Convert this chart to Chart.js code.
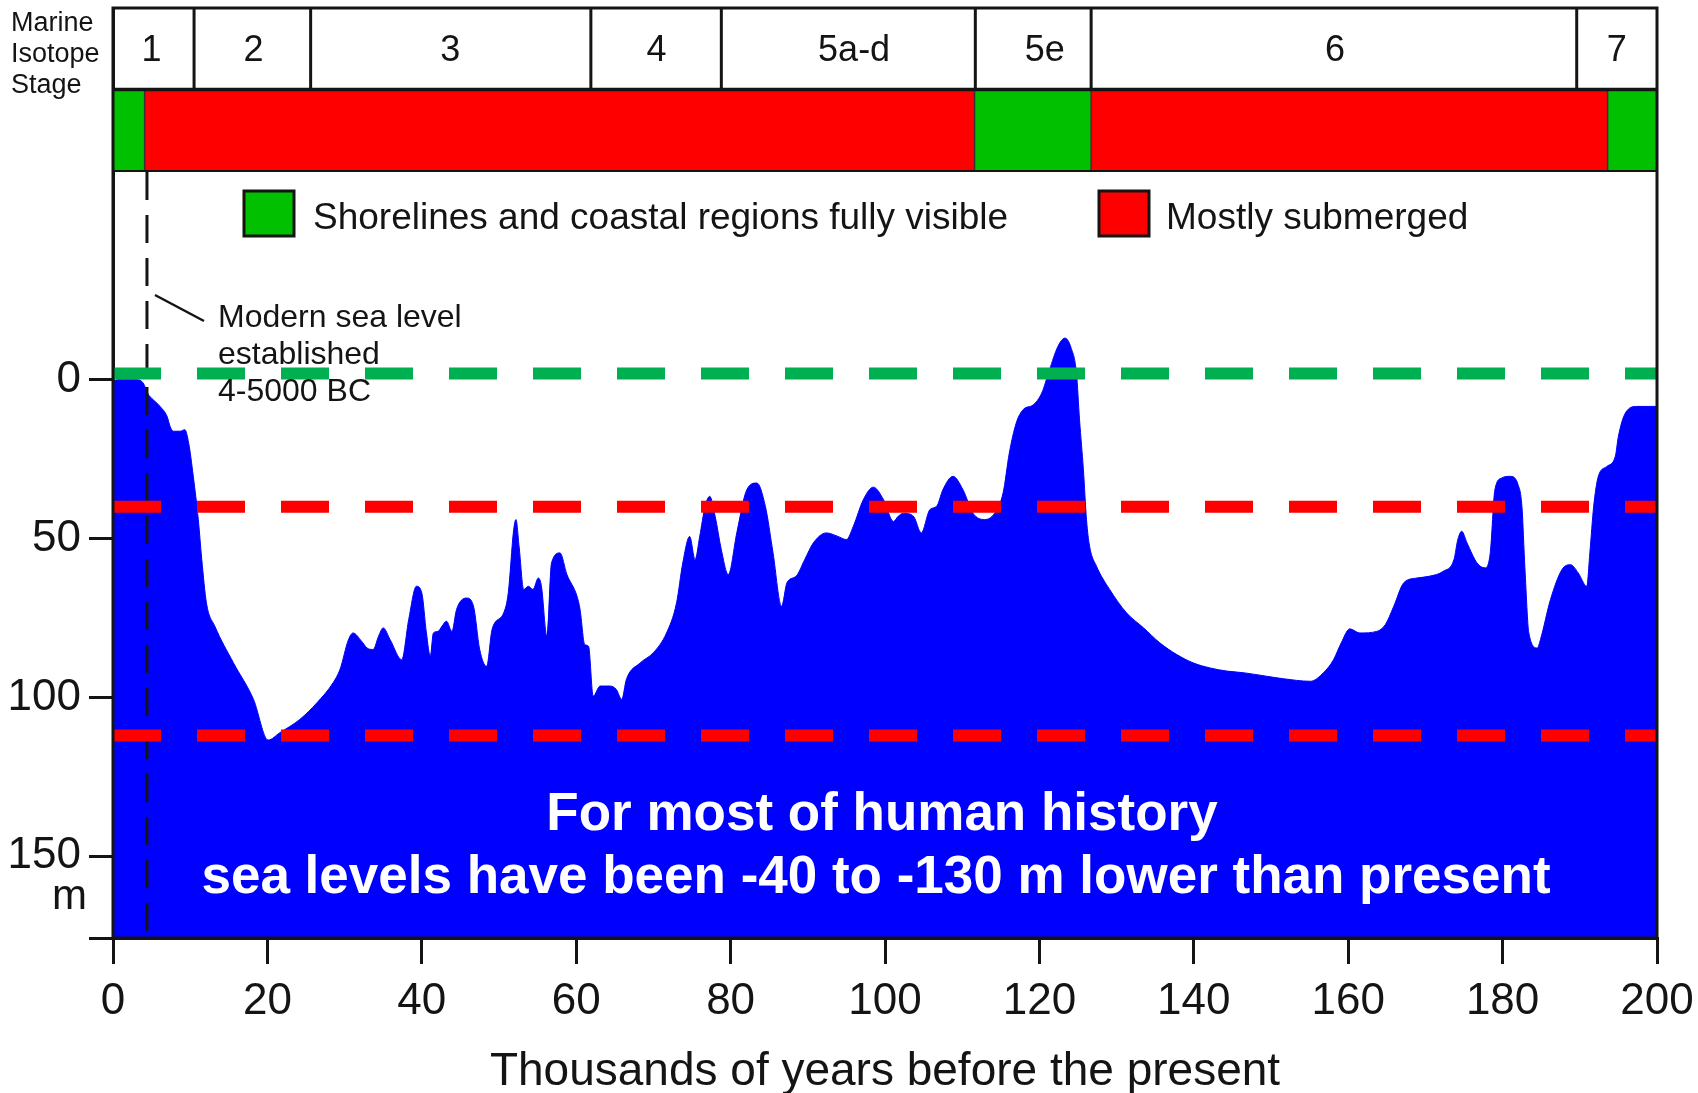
<!DOCTYPE html>
<html>
<head>
<meta charset="utf-8">
<title>Sea level over the last 200,000 years</title>
<script src="https://cdn.jsdelivr.net/npm/chart.js@4.4.1/dist/chart.umd.min.js"></script>
<style>
  html, body { margin: 0; padding: 0; background: #fff; }
  #wrap { width: 1698px; height: 1093px; }
</style>
</head>
<body>
<div id="wrap"><canvas id="chart" width="1698" height="1093"></canvas></div>
<script>
// sea level curve: age in thousands of years before present, depth in m below present level
const ageKyr = [
  0, 0.5, 3.1, 3.9, 4.6, 5.0, 6.1, 7.0, 7.4, 7.8, 8.7, 9.3, 9.8, 10.4, 11.05, 11.5, 12.1, 13.2,
  15.6, 18.2, 20.1, 21.6, 24.2, 26.4, 28.5, 29.4, 30.5, 31.1, 32.2, 32.9, 33.7, 34.4, 35.0, 35.9,
  37.4, 38.3, 39.3, 40.0, 40.6, 41.1, 41.5, 42.1, 42.6, 43.2, 43.9, 44.5, 45.8, 46.7, 47.5, 48.4,
  49.1, 50.6, 51.2, 51.9, 52.2, 52.6, 53.2, 53.8, 54.4, 55.1, 55.5, 56.2, 56.8, 57.9, 58.8, 60.1,
  60.5, 61.1, 61.6, 62.2, 63.1, 64.4, 65.2, 65.9, 66.5, 68.3, 70.0, 71.7, 73.0, 73.8, 74.7, 75.4,
  76.0, 76.7, 77.3, 78.0, 78.8, 79.7, 80.8, 82.1, 83.4, 84.5, 85.5, 86.6, 87.3, 88.5, 89.6, 90.7,
  92.4, 93.9, 95.0, 95.9, 97.2, 98.5, 99.8, 101.1, 101.7, 102.4, 103.7, 104.7, 105.8, 106.7, 107.5,
  108.8, 110.1, 111.4, 112.9, 114.2, 115.3, 116.1, 117.0, 117.9, 119.2, 120.3, 121.3, 122.4, 123.3,
  124.1, 124.8, 125.2, 125.7, 126.1, 126.5, 127.4, 129.1, 131.3, 133.5, 135.6, 137.8, 139.9, 142.1,
  144.3, 146.4, 149.4, 151.6, 155.1, 156.8, 158.1, 159.1, 160.2, 161.5, 163.7, 164.8, 165.9, 167.2,
  168.9, 170.6, 172.3, 173.7, 174.2, 174.7, 175.4, 176.7, 177.7, 178.4, 179.0, 179.9, 181.0, 182.0,
  182.5, 182.9, 183.4, 184.5, 184.9, 186.2, 187.7, 188.8, 189.8, 190.9, 191.3, 191.8, 192.4, 193.5,
  194.6, 195.0, 195.9, 197.4, 200
];
const depthM = [
  1, 0, 0, 1, 4.7, 5.8, 8.4, 11.5, 14.7, 16.2, 16.2, 15.7, 19.9, 30.4, 44, 56.6, 70.2, 77.6,
  89.1, 100.6, 113.4, 111.1, 106.9, 101.7, 95.4, 91.2, 81.8, 79.7, 82.3, 84.4, 84.9, 80.7, 78.1, 81.8,
  88.1, 75.5, 65, 67.1, 79.7, 87, 79.7, 79.2, 77.6, 76.0, 79.2, 72.3, 68.7, 71.3, 84.9, 90.2,
  78.6, 73.4, 67.1, 47.2, 44, 52.4, 66, 65, 66, 62.4, 65, 80.7, 57.7, 54.5, 61.3, 68.1,
  72.3, 83.3, 83.9, 99.6, 96.4, 96.4, 97.5, 100.6, 94.3, 89.1, 85.9, 79.7, 70.2, 57.7, 49.3, 56.6,
  49.3, 39.8, 36.7, 43, 53.5, 61.3, 48.2, 34.6, 32.5, 39.8, 54.5, 71.3, 63.9, 61.8, 56.6, 51.4,
  48.2, 49.3, 50.3, 46.1, 37.7, 33.8, 37.7, 44.6, 43, 42, 43, 48.2, 40.9, 39.8, 34.6,
  30.4, 34.6, 42, 44, 42, 35.6, 23.1, 13.6, 9.4, 7.9, 4.2, -3.1, -10.5, -13.1,
  -10.1, -2.1, 12.6, 28.3, 44, 52.4, 58.7, 66, 73.4, 78.1, 82.8, 86.5, 89.1, 90.7,
  91.7, 92.2, 93.3, 94.1, 94.9, 92.2, 88.1, 82.8, 78.4, 79.7, 79.2, 77.1, 71.3, 63.9,
  62.4, 61.8, 60.3, 56.6, 50.3, 47.7, 51.4, 57.7, 59.2, 54.5, 34.6, 30.9, 30.4, 33.0,
  39.8, 59.7, 79.7, 84.4, 81.8, 69.2, 59.7, 58.2, 60.8, 65, 54.5, 39.8, 30.4, 27.3,
  24.1, 17.8, 10.5, 8.4, 8.4
];

// dashed reference levels (m below present)
const refLevelDepths = [-2, 40, 112];
const refLevelKinds = ['visible', 'submerged', 'submerged'];

// marine isotope stages, boundaries and label spots in kyr
const stageLabels = ['1', '2', '3', '4', '5a-d', '5e', '6', '7'];
const stageEdges = [0, 10.5, 25.6, 61.9, 78.8, 111.7, 126.7, 189.6, 200];
const stageLabelAt = [5.0, 18.2, 43.7, 70.4, 96.0, 120.7, 158.3, 194.8];

// coastline exposure bar
const exposureEdges = [0, 4.1, 111.6, 126.7, 193.6, 200];
const exposureState = ['visible', 'submerged', 'visible', 'submerged', 'visible'];
const legendLabels = {
  visible: 'Shorelines and coastal regions fully visible',
  submerged: 'Mostly submerged'
};

const modernLevelKyr = 4.4;
const noteLines = ['Modern sea level', 'established', '4-5000 BC'];
const stageTitle = ['Marine', 'Isotope', 'Stage'];
const bigText = ['For most of human history', 'sea levels have been -40 to -130 m lower than present'];
const xTitle = 'Thousands of years before the present';
const yTickValues = [0, 50, 100, 150];
const yUnit = 'm';

const Y_MIN = -117;
const Y_MAX = 175.7;

const FONT = '"Liberation Sans", Arial, Helvetica, sans-serif';
const INK = '#141414';
const SEA = '#0000ff';
const BAR_COLORS = { visible: '#00c000', submerged: '#ff0000' };
const DASH_COLORS = { visible: '#00b050', submerged: '#ff0000' };

const curve = ageKyr.map((a, i) => ({ x: a, y: depthM[i] }));

const datasets = [
  {
    data: curve,
    borderColor: SEA,
    borderWidth: 1,
    backgroundColor: SEA,
    fill: { value: Y_MAX },
    pointRadius: 0,
    cubicInterpolationMode: 'monotone',
    order: 2
  }
];
refLevelDepths.forEach((d, i) => {
  datasets.push({
    data: [{ x: 0, y: d }, { x: 200, y: d }],
    borderColor: DASH_COLORS[refLevelKinds[i]],
    borderWidth: 12,
    borderDash: [48, 36],
    borderCapStyle: 'butt',
    pointRadius: 0,
    fill: false,
    clip: 0,
    order: 1
  });
});

function line(ctx, x1, y1, x2, y2) {
  ctx.beginPath();
  ctx.moveTo(x1, y1);
  ctx.lineTo(x2, y2);
  ctx.stroke();
}

const decorPlugin = {
  id: 'decor',
  afterDatasetDraw(chart, args) {
    // black dashed marker sits above the fill but under the coloured dashes
    if (args.index !== 0) return;
    const { ctx, chartArea: a, scales: { x } } = chart;
    const mx = x.getPixelForValue(modernLevelKyr);
    ctx.save();
    ctx.strokeStyle = INK;
    ctx.lineWidth = 3;
    ctx.setLineDash([28, 15]);
    line(ctx, mx, a.top + 164, mx, a.bottom);
    ctx.restore();
  },
  afterDatasetsDraw(chart) {
    const { ctx, chartArea: a, scales: { x } } = chart;
    ctx.save();

    // overlay text on the sea
    ctx.fillStyle = '#fff';
    ctx.font = `bold 53px ${FONT}`;
    ctx.textAlign = 'center';
    ctx.textBaseline = 'middle';
    ctx.fillText(bigText[0], 882, 815);
    ctx.fillText(bigText[1], 876, 878);

    // note about modern sea level
    const mx = x.getPixelForValue(modernLevelKyr);
    ctx.strokeStyle = INK;
    ctx.lineWidth = 2.5;
    line(ctx, mx + 8, 295, 204, 321);
    ctx.fillStyle = INK;
    ctx.font = `32px ${FONT}`;
    ctx.textAlign = 'left';
    ctx.textBaseline = 'alphabetic';
    noteLines.forEach((t, i) => ctx.fillText(t, 218, 327 + i * 37));

    // stage header row
    const rowBottom = a.top + 80;
    const barTop = a.top + 83;
    const barBottom = a.top + 162;
    for (let i = 0; i < exposureState.length; i++) {
      const x1 = x.getPixelForValue(exposureEdges[i]);
      const x2 = x.getPixelForValue(exposureEdges[i + 1]);
      ctx.fillStyle = BAR_COLORS[exposureState[i]];
      ctx.fillRect(x1, barTop, x2 - x1, barBottom - barTop);
    }
    ctx.strokeStyle = '#333';
    ctx.lineWidth = 1.5;
    for (let i = 1; i < exposureState.length; i++) {
      const bx = x.getPixelForValue(exposureEdges[i]);
      line(ctx, bx, barTop, bx, barBottom);
    }
    ctx.strokeStyle = INK;
    ctx.lineWidth = 3.5;
    line(ctx, a.left, rowBottom + 1.5, a.right, rowBottom + 1.5);
    ctx.lineWidth = 2;
    line(ctx, a.left, barBottom + 1, a.right, barBottom + 1);
    ctx.lineWidth = 3;
    ctx.fillStyle = INK;
    ctx.font = `36px ${FONT}`;
    ctx.textAlign = 'center';
    ctx.textBaseline = 'middle';
    for (let i = 0; i < stageLabels.length; i++) {
      const x1 = x.getPixelForValue(stageEdges[i]);
      if (i > 0) line(ctx, x1, a.top, x1, rowBottom);
      ctx.fillText(stageLabels[i], x.getPixelForValue(stageLabelAt[i]), a.top + 43);
    }

    // legend
    ctx.font = `37px ${FONT}`;
    ctx.textAlign = 'left';
    const legendItems = [['visible', 244, 313], ['submerged', 1099, 1166]];
    legendItems.forEach(([kind, bx, tx]) => {
      ctx.fillStyle = BAR_COLORS[kind];
      ctx.fillRect(bx, 191, 50, 45);
      ctx.strokeStyle = INK;
      ctx.lineWidth = 3;
      ctx.strokeRect(bx, 191, 50, 45);
      ctx.fillStyle = INK;
      ctx.fillText(legendLabels[kind], tx, 219);
    });

    // stage title at top left
    ctx.font = `27px ${FONT}`;
    stageTitle.forEach((t, i) => ctx.fillText(t, 11, 24 + i * 31));

    // unit under the 150 tick
    ctx.font = `42px ${FONT}`;
    ctx.textAlign = 'right';
    ctx.textBaseline = 'alphabetic';
    ctx.fillText(yUnit, 87, 909);

    // frame
    ctx.strokeStyle = INK;
    ctx.lineWidth = 3;
    ctx.strokeRect(a.left, a.top, a.right - a.left, a.bottom - a.top);
    ctx.restore();
  }
};

new Chart(document.getElementById('chart'), {
  type: 'line',
  data: { datasets },
  options: {
    responsive: false,
    animation: false,
    devicePixelRatio: 1,
    layout: { padding: { left: 0, top: 8, right: 41, bottom: 0 } },
    plugins: { legend: { display: false }, tooltip: { enabled: false } },
    scales: {
      x: {
        type: 'linear',
        min: 0,
        max: 200,
        ticks: {
          stepSize: 20,
          autoSkip: false,
          maxRotation: 0,
          padding: 11,
          color: INK,
          font: { size: 44, family: FONT }
        },
        grid: { drawOnChartArea: false, color: INK, lineWidth: 3, tickLength: 26 },
        border: { color: INK, width: 3 },
        title: {
          display: true,
          text: xTitle,
          color: INK,
          font: { size: 46, family: FONT, lineHeight: 0.9 },
          padding: { top: 0, bottom: 0 }
        },
        afterFit: (s) => {
          s.height = 155;
          s.paddingLeft = 0;
          s.paddingRight = 0;
        }
      },
      y: {
        type: 'linear',
        reverse: true,
        min: Y_MIN,
        max: Y_MAX,
        afterBuildTicks: (s) => {
          s.ticks = yTickValues.concat([Y_MAX]).map((v) => ({ value: v }));
        },
        ticks: {
          padding: 8,
          color: INK,
          font: { size: 44, family: FONT },
          callback: (v) => (v === Y_MAX ? '' : v)
        },
        grid: { drawOnChartArea: false, color: INK, lineWidth: 3, tickLength: 24 },
        border: { color: INK, width: 3 },
        afterFit: (s) => {
          s.width = 113;
          s.paddingTop = 0;
          s.paddingBottom = 0;
        }
      }
    }
  },
  plugins: [decorPlugin]
});
</script>
</body>
</html>
